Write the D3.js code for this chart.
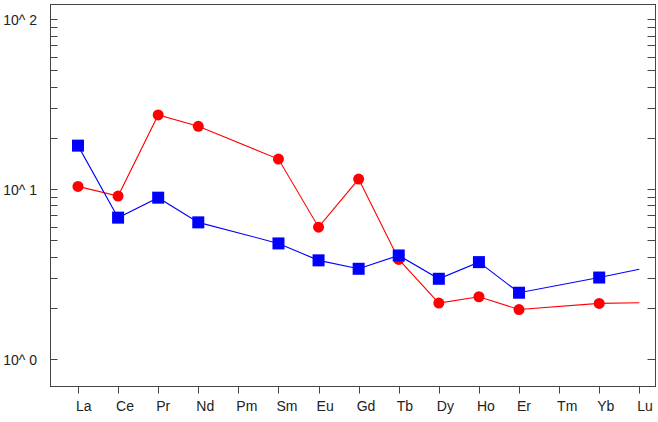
<!DOCTYPE html>
<html>
<head>
<meta charset="utf-8">
<script src="https://cdn.jsdelivr.net/npm/d3@7"></script>
<style>
	body { margin: 0; background: #fff; }
	text { font-family: "Liberation Sans", Arial, sans-serif; }
</style>
</head>
<body>
<div id="chart"></div>
<script>
var elements = ['La', 'Ce', 'Pr', 'Nd', 'Pm', 'Sm', 'Eu', 'Gd', 'Tb', 'Dy', 'Ho', 'Er', 'Tm', 'Yb', 'Lu'];
// null = not measured (Pm, Tm)
var blueValues = [18.0, 6.78, 8.89, 6.36, null, 4.78, 3.80, 3.39, 4.06, 2.96, 3.71, 2.45, null, 3.01, 3.37];
var redValues = [10.36, 9.09, 27.3, 23.4, null, 15.0, 5.96, 11.44, 3.85, 2.13, 2.32, 1.95, null, 2.12, 2.14];
var yTickLabels = ['10^ 0', '10^ 1', '10^ 2'];
var yMajor = [1, 10, 100];

var width = 658,
	height = 422,
	plotLeft = 50.5,
	plotRight = 655.5,
	plotTop = 4.5,
	plotBottom = 386.5;

var svg = d3.select('#chart').append('svg')
	.attr('width', width)
	.attr('height', height);

var x = d3.scalePoint()
	.domain(elements)
	.range([78, 639.3]);

var y = d3.scaleLog()
	.domain([0.687, 122])
	.range([plotBottom, plotTop]);

// minor ticks 1..9 per decade
var minor = [];
[1, 10].forEach(function (dec) {
	for (var i = 1; i < 10; i++) minor.push(dec * i);
});
minor.push(100);

var axisColor = '#444';

// frame
svg.append('rect')
	.attr('x', plotLeft)
	.attr('y', plotTop)
	.attr('width', plotRight - plotLeft)
	.attr('height', plotBottom - plotTop)
	.style('fill', 'none')
	.style('stroke', axisColor)
	.style('stroke-width', 1);

// inward ticks, left and right
svg.append('g').selectAll('line')
	.data(minor)
	.enter().append('line')
	.attr('x1', plotLeft)
	.attr('x2', plotLeft + 7)
	.attr('y1', function (d) { return Math.round(y(d)) + 0.5; })
	.attr('y2', function (d) { return Math.round(y(d)) + 0.5; })
	.style('stroke', axisColor);

svg.append('g').selectAll('line')
	.data(minor)
	.enter().append('line')
	.attr('x1', plotRight)
	.attr('x2', plotRight - 8)
	.attr('y1', function (d) { return Math.round(y(d)) + 0.5; })
	.attr('y2', function (d) { return Math.round(y(d)) + 0.5; })
	.style('stroke', axisColor);

svg.append('g').selectAll('text')
	.data(yMajor)
	.enter().append('text')
	.attr('x', 37)
	.attr('y', function (d) { return y(d) + 6; })
	.attr('text-anchor', 'end')
	.style('font-size', '14px')
	.style('fill', '#222')
	.text(function (d, i) { return yTickLabels[i]; });

// bottom ticks + labels (labels start just left of their tick)
var xg = svg.append('g');
xg.selectAll('line')
	.data(elements)
	.enter().append('line')
	.attr('x1', function (d) { return Math.round(x(d)) + 0.5; })
	.attr('x2', function (d) { return Math.round(x(d)) + 0.5; })
	.attr('y1', plotBottom)
	.attr('y2', plotBottom + 7)
	.style('stroke', axisColor);

xg.selectAll('text')
	.data(elements)
	.enter().append('text')
	.attr('x', function (d) { return x(d) - 2; })
	.attr('y', 411)
	.attr('text-anchor', 'start')
	.style('font-size', '14px')
	.style('fill', '#222')
	.text(function (d) { return d; });

function series(values, color, shape) {
	var pts = elements.map(function (e, i) {
		return { name: e, value: values[i], last: i === elements.length - 1 };
	}).filter(function (d) { return d.value != null; });

	var line = d3.line()
		.x(function (d) { return x(d.name); })
		.y(function (d) { return y(d.value); });

	svg.append('path')
		.datum(pts)
		.attr('d', line)
		.style('fill', 'none')
		.style('stroke', color)
		.style('stroke-width', 1.1);

	// the last point (Lu) carries no marker in the original
	var marks = pts.filter(function (d) { return !d.last; });

	if (shape === 'square') {
		svg.append('g').selectAll('rect')
			.data(marks)
			.enter().append('rect')
			.attr('x', function (d) { return x(d.name) - 6; })
			.attr('y', function (d) { return y(d.value) - 6; })
			.attr('width', 12)
			.attr('height', 12)
			.style('fill', color);
	} else {
		svg.append('g').selectAll('circle')
			.data(marks)
			.enter().append('circle')
			.attr('cx', function (d) { return x(d.name); })
			.attr('cy', function (d) { return y(d.value); })
			.attr('r', 5.5)
			.style('fill', color);
	}
}

series(redValues, '#ff0000', 'circle');
series(blueValues, '#0000ff', 'square');
</script>
</body>
</html>
